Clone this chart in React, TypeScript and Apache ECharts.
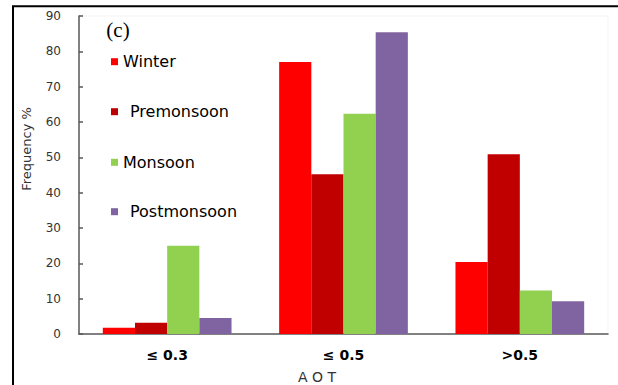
import React, { useEffect, useRef } from "react";
import * as echarts from "echarts";

const categories = ["≤ 0.3", "≤ 0.5", ">0.5"];
const seriesNames = ["Winter", "Premonsoon", "Monsoon", "Postmonsoon"];
const winter = [1.8, 77.0, 20.4];
const premonsoon = [3.2, 45.2, 50.9];
const monsoon = [25.0, 62.3, 12.3];
const postmonsoon = [4.5, 85.4, 9.3];
const colors = ["#FF0000", "#C00000", "#92D050", "#8064A2"];
const yTicks = { min: 0, max: 90, interval: 10 };

const FONT = "DejaVu Sans, Arial, sans-serif";

export default function App() {
  const ref = useRef<HTMLDivElement>(null);
  useEffect(() => {
    if (!ref.current) return;
    const chart = echarts.init(ref.current, undefined, { renderer: "svg" });
    const values = [winter, premonsoon, monsoon, postmonsoon];
    const legendTops = [53.7, 103.7, 154.3, 203.7];
    const legendPad = [0, 7, 0, 7];
    chart.setOption({
      animation: false,
      backgroundColor: "#ffffff",
      grid: {
        left: 79,
        top: 16,
        right: 10,
        bottom: 51,
        show: true,
        borderColor: "#f3f3f3",
        borderWidth: 1,
        outerBoundsMode: "none",
      },
      legend: seriesNames.map((n, i) => ({
        data: [n],
        orient: "vertical",
        left: 111,
        top: legendTops[i],
        padding: 0,
        itemWidth: 7,
        itemHeight: 7,
        icon: "rect",
        selectedMode: false,
        textStyle: {
          fontFamily: FONT,
          fontSize: 16,
          lineHeight: 16,
          color: "#000",
          padding: [0, 0, 0, legendPad[i]],
        },
      })),
      xAxis: {
        type: "category",
        data: categories,
        axisLine: { lineStyle: { color: "#595959", width: 1.5 } },
        axisTick: { inside: true, length: 4, lineStyle: { color: "#595959", width: 1.5 } },
        axisLabel: {
          fontFamily: FONT,
          fontSize: 14,
          fontWeight: "bold",
          color: "#000",
          margin: 14,
        },
        name: "A O T",
        nameLocation: "middle",
        nameGap: 36,
        nameTextStyle: {
          fontFamily: FONT,
          fontSize: 14,
          color: "#333",
          padding: [0, 53, 0, 0],
        },
      },
      yAxis: {
        type: "value",
        min: yTicks.min,
        max: yTicks.max,
        interval: yTicks.interval,
        splitLine: { show: false },
        axisLine: { show: true, lineStyle: { color: "#595959", width: 1.5 } },
        axisTick: { show: true, inside: true, length: 4, lineStyle: { color: "#595959", width: 1.5 } },
        axisLabel: { fontFamily: FONT, fontSize: 12, color: "#333", margin: 18 },
      },
      graphic: [
        {
          type: "rect",
          shape: { x: 13, y: 6.2, width: 700, height: 500 },
          style: { fill: "none", stroke: "#000", lineWidth: 2 },
          silent: true,
        },
        {
          type: "text",
          x: 118,
          y: 30,
          style: {
            text: "(c)",
            font: "21px 'Liberation Serif', 'Times New Roman', serif",
            fill: "#000",
            textAlign: "center",
            textVerticalAlign: "middle",
          },
        },
        {
          type: "text",
          x: 26,
          y: 149,
          rotation: Math.PI / 2,
          style: {
            text: "Frequency %",
            font: "13px " + FONT,
            fill: "#333",
            textAlign: "center",
            textVerticalAlign: "middle",
          },
        },
      ],
      series: seriesNames.map((n, i) => ({
        name: n,
        type: "bar",
        data: values[i],
        barGap: "0%",
        barCategoryGap: "27%",
        itemStyle: { color: colors[i] },
      })),
    });
    return () => chart.dispose();
  }, []);
  return (
    <div
      ref={ref}
      style={{ position: "fixed", left: 0, top: 0, width: 618, height: 385 }}
    />
  );
}
